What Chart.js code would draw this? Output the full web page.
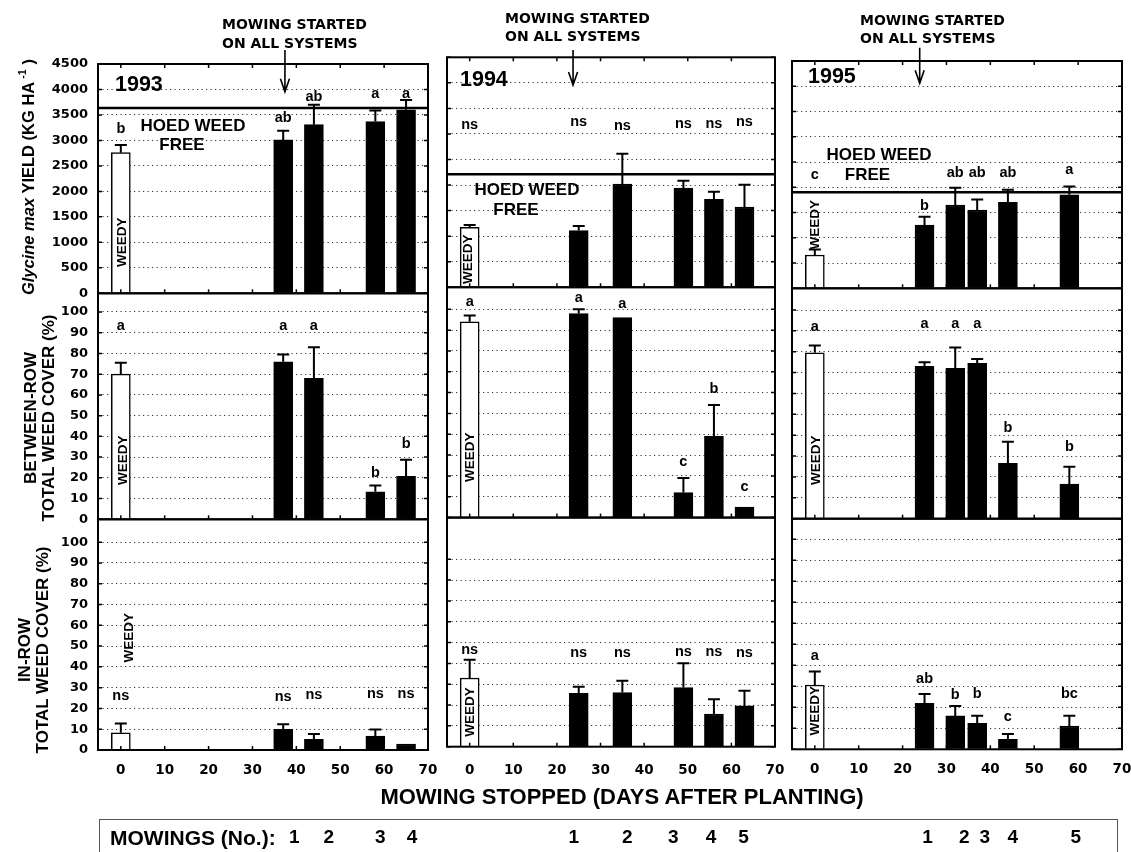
<!DOCTYPE html>
<html><head><meta charset="utf-8"><title>Mowing stopped – yield and weed cover</title>
<script src="https://cdn.jsdelivr.net/npm/chart.js@4.4.1/dist/chart.umd.min.js"></script>
<style>
html,body{margin:0;padding:0;background:#fff;}
#wrap{position:relative;width:1131px;height:852px;overflow:hidden;background:#fff;color:#000;font-family:"Liberation Sans",Arial,sans-serif;font-weight:bold;}
#wrap canvas{position:absolute;top:0;}
.lbl{position:absolute;white-space:nowrap;line-height:1;transform:translate(0,-50%);}
.ctr{position:absolute;white-space:nowrap;line-height:1;transform:translate(-50%,-50%);}
.rot{position:absolute;white-space:nowrap;text-align:center;transform:translate(-50%,-50%) rotate(-90deg);}
.dv{font-family:"DejaVu Sans",sans-serif;font-size:14px;}
#mowbox{position:absolute;left:99px;top:819px;width:1019px;height:60px;box-sizing:border-box;border:1.5px solid #555;}
</style></head><body>
<div id="wrap">
<div id="mowbox"></div>
<canvas id="c1993" width="440" height="852" style="left:0px"></canvas>
<canvas id="c1994" width="350" height="852" style="left:440px"></canvas>
<canvas id="c1995" width="360" height="852" style="left:778px"></canvas>

<div class="lbl dv" style="left:222px;top:24.3px">MOWING STARTED</div>
<div class="lbl dv" style="left:222px;top:42.7px">ON ALL SYSTEMS</div>
<div class="lbl dv" style="left:505px;top:18.3px">MOWING STARTED</div>
<div class="lbl dv" style="left:505px;top:36px">ON ALL SYSTEMS</div>
<div class="lbl dv" style="left:860px;top:20px">MOWING STARTED</div>
<div class="lbl dv" style="left:860px;top:37.7px">ON ALL SYSTEMS</div>

<div class="lbl" style="left:115px;top:85px;font-size:21.5px">1993</div>
<div class="lbl" style="left:460px;top:80px;font-size:21.5px">1994</div>
<div class="lbl" style="left:808px;top:77px;font-size:21.5px">1995</div>

<div class="ctr" style="left:193px;top:125px;font-size:17px">HOED WEED</div>
<div class="ctr" style="left:182px;top:144px;font-size:17px">FREE</div>
<div class="ctr" style="left:527px;top:189px;font-size:17px">HOED WEED</div>
<div class="ctr" style="left:516px;top:209px;font-size:17px">FREE</div>
<div class="ctr" style="left:879px;top:154px;font-size:17px">HOED WEED</div>
<div class="ctr" style="left:867.5px;top:174px;font-size:17px">FREE</div>

<div class="rot" style="left:27px;top:177px;font-size:16.5px;line-height:1;"><i>Glycine max</i> YIELD (KG HA<sup style="font-size:10.5px;vertical-align:8px;margin-left:3px;margin-right:5px">-1</sup>)</div>
<div class="rot" style="left:40px;top:418px;font-size:17px;line-height:18px;">BETWEEN-ROW<br>TOTAL WEED COVER (%)</div>
<div class="rot" style="left:34px;top:650px;font-size:17px;line-height:18px;">IN-ROW<br>TOTAL WEED COVER (%)</div>

<div class="ctr" style="left:622px;top:797px;font-size:22px">MOWING STOPPED (DAYS AFTER PLANTING)</div>
<div class="lbl" style="left:110px;top:837px;font-size:21px">MOWINGS (No.):</div>
</div>

<script>
// ---------------- data ----------------
const days1993 = [0, 37, 44, 58, 65];
const days1994 = [0, 25, 35, 49, 56, 63];
const days1995 = [0, 25, 32, 37, 44, 58];

const yield1993 = [2760, 3010, 3310, 3370, 3600];
const yieldErr1993 = [150, 180, 390, 215, 195];
const yieldSig1993 = ['b', 'ab', 'ab', 'a', 'a'];

const yield1994 = [1170, 1110, 2020, 1940, 1720, 1570];
const yieldErr1994 = [50, 90, 590, 145, 150, 435];
const yieldSig1994 = ['ns', 'ns', 'ns', 'ns', 'ns', 'ns'];

const yield1995 = [660, 1250, 1650, 1550, 1700, 1850];
const yieldErr1995 = [110, 165, 340, 210, 250, 165];
const yieldSig1995 = ['c', 'b', 'ab', 'ab', 'ab', 'a'];

const between1993 = [70, 76, 68, 13.3, 20.7];
const betweenErr1993 = [5.5, 3.5, 15, 3, 8];
const betweenSig1993 = ['a', 'a', 'a', 'b', 'b'];

const between1994 = [94, 98, 96, 12, 39, 5];
const betweenErr1994 = [3, 2, 0, 7, 15, 0];
const betweenSig1994 = ['a', 'a', 'a', 'c', 'b', 'c'];

const between1995 = [79.5, 73, 72, 74.5, 26.5, 16.6];
const betweenErr1995 = [3.5, 2, 10, 2, 10.4, 8.3];
const betweenSig1995 = ['a', 'a', 'a', 'a', 'b', 'b'];

const inrow1993 = [8.3, 10, 5.1, 6.7, 2.9];
const inrowErr1993 = [4.5, 2.4, 2.6, 3.2, 0];
const inrowSig1993 = ['ns', 'ns', 'ns', 'ns', 'ns'];

const inrow1994 = [33, 25.7, 26, 28.4, 15.7, 19.6];
const inrowErr1994 = [8.8, 3.1, 5.7, 11.7, 7.1, 7.3];
const inrowSig1994 = ['ns', 'ns', 'ns', 'ns', 'ns', 'ns'];

const inrow1995 = [30.6, 21.9, 15.9, 12.4, 4.8, 11.1];
const inrowErr1995 = [6.4, 4.4, 4.7, 3.6, 2.5, 4.9];
const inrowSig1995 = ['a', 'ab', 'b', 'b', 'c', 'bc'];

const hoedWeedFree = [3635, 2210, 1900];
const mowingStartDay = [37.4, 23.7, 23.9];
const mowings1993 = ['1', '2', '3', '4'];
const mowings1994 = ['1', '2', '3', '4', '5'];
const mowings1995 = ['1', '2', '3', '4', '5'];
const xTickStep = 10;
const yieldTickStep = 500;
const coverTickStep = 10;

// ---------------- layout (annotation anchors in data units, pixel layout) ----------------
const sigAnchor = {
  y1993: [3229, 3445, 3857, 3916, 3916],
  y1994: [3176, 3241, 3162, 3196, 3196, 3241],
  y1995: [2243, 1635, 2277, 2277, 2277, 2342],
  b1993: [93, 93, 93, 22.4, 36.3],
  b1994: [103.7, 105.3, 102.6, 26.6, 61.8, 14.8],
  b1995: [91.7, 93.1, 93.1, 93.1, 43.3, 34.2],
  i1993: [25.9, 25.6, 26.4, 26.9, 26.9],
  i1994: [46.5, 44.9, 45.2, 45.5, 45.5, 45.2],
  i1995: [44.4, 33.3, 25.9, 26.3, 15.5, 26.3]
};
const weedyAnchor = [[1000, 28.5, 54], [550, 29, 16.7], [1260, 28, 18.4]];
const weedyDx = [[0, 1, 7], [-2, 0, 0], [-1, 0, -1]];
const mowLabelDx = [[11, 15, 5, 6], [-5, 5, -10, -3, -1], [3, 9, 7.5, 5, 6.5]];
const layouts = [
  {id: 'c1993', yW: 98, padR: 12, top: 64, xH: 102, weights: [229.3, 226, 230.7], max2: 109, max3: 111, tickLH: 40, showY: true, arrow: [50, 91.7]},
  {id: 'c1994', yW: 7, padR: 15, top: 57.3, xH: 105.3, weights: [230, 230.4, 229.2], max2: 110.6, max3: 110.1, tickLH: 46.6, showY: false, arrow: [50, 85]},
  {id: 'c1995', yW: 14, padR: 16, top: 61, xH: 102.7, weights: [227.3, 230.4, 230.6], max2: 110.4, max3: 109.8, tickLH: 40, showY: false, arrow: [47.7, 83.3]}
];

const SANS = '"Liberation Sans", Arial, sans-serif';
const DV = '"DejaVu Sans", sans-serif';

function pts(days, vals) { return days.map((d, i) => ({x: d, y: vals[i]})); }

function barDs(axis, days, vals, errs, sig, sigAt, wAt, wDx) {
  return {
    yAxisID: axis, xAxisID: 'x', data: pts(days, vals),
    errors: errs, sig: sig, sigAt: sigAt, weedyAt: wAt, weedyDx: wDx,
    grouped: false, barThickness: 19,
    backgroundColor: c => (c.raw && c.raw.x === 0) ? '#ffffff' : '#000000',
    borderColor: '#000000', borderWidth: 1.5, borderSkipped: 'start'
  };
}

const decor = {
  id: 'decor',
  afterDatasetsDraw(chart) {
    const o = chart.options.plugins.decor;
    const ctx = chart.ctx, ca = chart.chartArea, xs = chart.scales.x;
    const rows = ['yYield', 'yBetween', 'yIn'].map(id => chart.scales[id]);
    ctx.save();
    ctx.strokeStyle = '#000'; ctx.fillStyle = '#000';
    // hoed weed free reference line
    const yh = rows[0].getPixelForValue(o.hoed);
    ctx.lineWidth = 2.5;
    ctx.beginPath(); ctx.moveTo(ca.left, yh); ctx.lineTo(ca.right, yh); ctx.stroke();
    // error bars, significance letters, WEEDY labels
    chart.data.datasets.forEach(ds => {
      const ys = chart.scales[ds.yAxisID];
      ds.data.forEach((p, i) => {
        const px = xs.getPixelForValue(p.x);
        const e = ds.errors[i];
        if (e > 0) {
          const y0 = ys.getPixelForValue(p.y), y1 = ys.getPixelForValue(p.y + e);
          ctx.lineWidth = 2;
          ctx.beginPath(); ctx.moveTo(px, y0); ctx.lineTo(px, y1);
          ctx.moveTo(px - 6, y1); ctx.lineTo(px + 6, y1); ctx.stroke();
        }
        ctx.font = 'bold 14.5px ' + SANS; ctx.textAlign = 'center'; ctx.textBaseline = 'middle';
        ctx.fillText(ds.sig[i], px, ys.getPixelForValue(ds.sigAt[i]));
      });
      const wx = xs.getPixelForValue(0) + ds.weedyDx, wy = ys.getPixelForValue(ds.weedyAt);
      ctx.save(); ctx.translate(wx, wy); ctx.rotate(-Math.PI / 2);
      ctx.font = 'bold 13.5px ' + SANS; ctx.textAlign = 'center'; ctx.textBaseline = 'middle';
      ctx.fillText('WEEDY', 0, 1); ctx.restore();
    });
    // panel borders
    ctx.lineWidth = 2;
    rows.forEach(s => ctx.strokeRect(ca.left, s.top, ca.right - ca.left, s.bottom - s.top));
    // inward tick marks
    ctx.lineWidth = 1.5;
    const xt = xs.ticks.map(t => xs.getPixelForValue(t.value));
    rows.forEach(s => {
      xt.forEach(px => { ctx.beginPath(); ctx.moveTo(px, s.bottom); ctx.lineTo(px, s.bottom - 4); ctx.stroke(); });
      s.ticks.forEach(t => {
        const py = s.getPixelForValue(t.value);
        ctx.beginPath(); ctx.moveTo(ca.left, py); ctx.lineTo(ca.left + 4, py);
        ctx.moveTo(ca.right, py); ctx.lineTo(ca.right - 4, py); ctx.stroke();
      });
    });
    xt.forEach(px => { ctx.beginPath(); ctx.moveTo(px, rows[0].top); ctx.lineTo(px, rows[0].top + 4); ctx.stroke(); });
    // "mowing started" arrow
    const ax = xs.getPixelForValue(o.arrowDay);
    ctx.lineWidth = 1.6;
    ctx.beginPath(); ctx.moveTo(ax, o.arrow[0]); ctx.lineTo(ax, o.arrow[1]);
    ctx.moveTo(ax - 4.5, o.arrow[1] - 13); ctx.lineTo(ax, o.arrow[1]); ctx.lineTo(ax + 4.5, o.arrow[1] - 13);
    ctx.stroke();
    // mowing counts under the mowed bars
    const mowed = chart.data.datasets[0].data.filter(p => p.x > 0);
    ctx.font = 'bold 19px ' + SANS; ctx.textAlign = 'center'; ctx.textBaseline = 'middle';
    mowed.forEach((p, i) => ctx.fillText(o.mowings[i], xs.getPixelForValue(p.x) + o.mowDx[i], 838));
    ctx.restore();
  }
};

function yAxis(L, min, max, step, sw, weight, limit) {
  return {
    type: 'linear', position: 'left', stack: 'rows', stackWeight: sw, weight: weight,
    min: min, max: max, bounds: 'ticks',
    grid: {color: '#333', lineWidth: 1, drawTicks: false},
    border: {display: false, dash: [1.2, 3.3]},
    ticks: {display: L.showY, stepSize: step, includeBounds: false, autoSkip: false, padding: 10,
      color: '#000', font: {family: DV, size: 13, weight: 'bold'},
      callback: v => String(v)},
    afterBuildTicks: s => { s.ticks = s.ticks.filter(t => t.value <= limit); },
    afterFit: s => { s.width = L.yW; }
  };
}

function buildColumn(k, days, yv, ye, ys, bv, be, bs, iv, ie, is, sigY, sigB, sigI, mowings) {
  const L = layouts[k];
  new Chart(document.getElementById(L.id), {
    type: 'bar',
    data: {datasets: [
      barDs('yYield', days, yv, ye, ys, sigY, weedyAnchor[k][0], weedyDx[k][0]),
      barDs('yBetween', days, bv, be, bs, sigB, weedyAnchor[k][1], weedyDx[k][1]),
      barDs('yIn', days, iv, ie, is, sigI, weedyAnchor[k][2], weedyDx[k][2])
    ]},
    options: {
      responsive: false, animation: false, events: [],
      layout: {padding: {top: L.top, right: L.padR, left: 0, bottom: 0}},
      plugins: {legend: {display: false}, tooltip: {enabled: false},
        decor: {hoed: hoedWeedFree[k], arrowDay: mowingStartDay[k], arrow: L.arrow, mowings: mowings, mowDx: mowLabelDx[k]}},
      scales: {
        x: {type: 'linear', position: 'bottom', min: -5.2, max: 70, offset: false, bounds: 'ticks',
          grid: {display: false, drawTicks: false, offset: false}, border: {display: false},
          ticks: {stepSize: xTickStep, includeBounds: false, autoSkip: false, maxRotation: 0, minRotation: 0, padding: 0,
            color: '#000', font: {family: DV, size: 13.5, weight: 'bold', lineHeight: L.tickLH / 13.5},
            callback: v => String(v)},
          afterBuildTicks: s => { s.ticks = s.ticks.filter(t => t.value >= 0 && t.value <= 70); },
          afterFit: s => { s.height = L.xH; }},
        yYield: yAxis(L, 0, 4500, yieldTickStep, L.weights[0], 3, 4500),
        yBetween: yAxis(L, 0, L.max2, coverTickStep, L.weights[1], 2, 100),
        yIn: yAxis(L, 0, L.max3, coverTickStep, L.weights[2], 1, 100)
      }
    },
    plugins: [decor]
  });
}

buildColumn(0, days1993, yield1993, yieldErr1993, yieldSig1993, between1993, betweenErr1993, betweenSig1993,
  inrow1993, inrowErr1993, inrowSig1993, sigAnchor.y1993, sigAnchor.b1993, sigAnchor.i1993, mowings1993);
buildColumn(1, days1994, yield1994, yieldErr1994, yieldSig1994, between1994, betweenErr1994, betweenSig1994,
  inrow1994, inrowErr1994, inrowSig1994, sigAnchor.y1994, sigAnchor.b1994, sigAnchor.i1994, mowings1994);
buildColumn(2, days1995, yield1995, yieldErr1995, yieldSig1995, between1995, betweenErr1995, betweenSig1995,
  inrow1995, inrowErr1995, inrowSig1995, sigAnchor.y1995, sigAnchor.b1995, sigAnchor.i1995, mowings1995);
</script>
</body></html>
